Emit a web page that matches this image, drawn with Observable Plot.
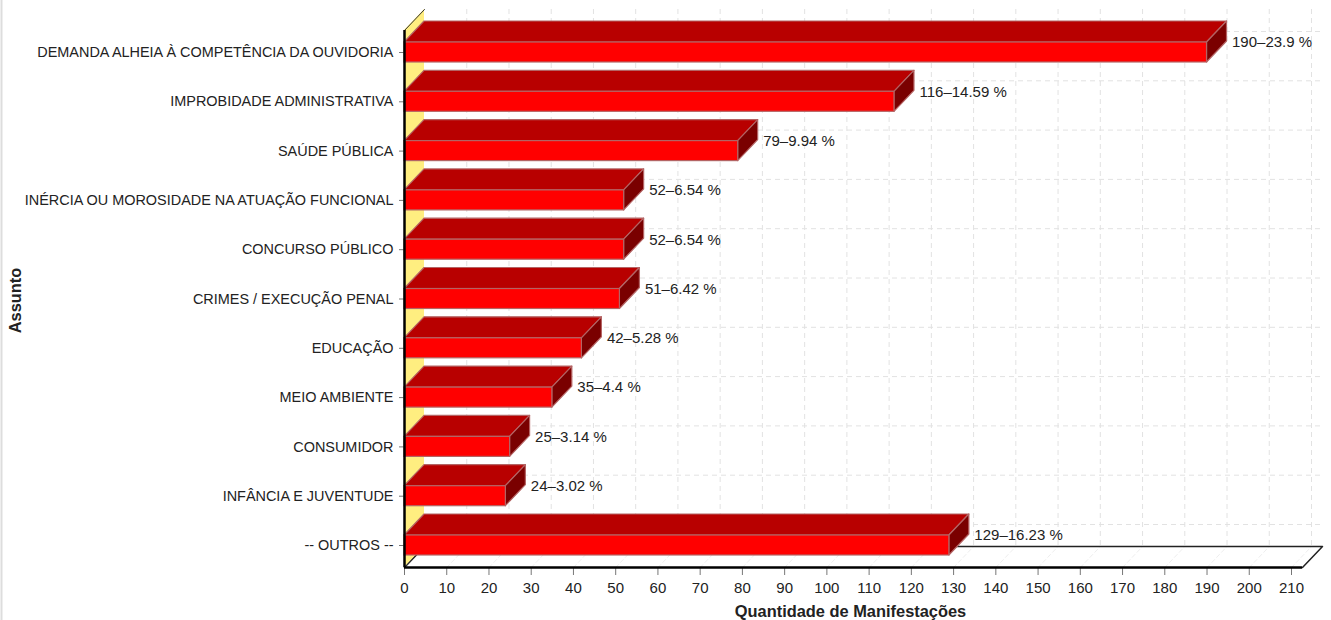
<!DOCTYPE html>
<html><head><meta charset="utf-8">
<script src="https://cdn.jsdelivr.net/npm/d3@7"></script>
<script src="https://cdn.jsdelivr.net/npm/@observablehq/plot@0.6"></script>
<style>html,body{margin:0;padding:0;background:#fff}svg{display:block}</style>
</head><body><div id="chart"></div>
<script>
const categories = ["DEMANDA ALHEIA À COMPETÊNCIA DA OUVIDORIA","IMPROBIDADE ADMINISTRATIVA","SAÚDE PÚBLICA","INÉRCIA OU MOROSIDADE NA ATUAÇÃO FUNCIONAL","CONCURSO PÚBLICO","CRIMES / EXECUÇÃO PENAL","EDUCAÇÃO","MEIO AMBIENTE","CONSUMIDOR","INFÂNCIA E JUVENTUDE","-- OUTROS --"];
const counts = [190,116,79,52,52,51,42,35,25,24,129];
const percents = ["23.9","14.59","9.94","6.54","6.54","6.42","5.28","4.4","3.14","3.02","16.23"];
const xTicks = d3.range(0,211,10);

const W=1331,H=620;
const x0=404, ppx=887/210;            // pixel of 0, pixels per unit
const y0=52, ppy=49.3;                // pixel of first category, pixels per category
const depthX=20/ppx, depthY=21/ppy;   // 3D depth in data units
const half=10/ppy;
const xMax=(1302-x0)/ppx;
const yFloor=(567-y0)/ppy, yTop=(30-y0)/ppy;

const idx=categories.map((_,i)=>i);
const topFaces=idx.flatMap(i=>[{i,y:i-half,x1:0,x2:counts[i]},{i,y:i-half-depthY,x1:depthX,x2:counts[i]+depthX}]);
const sideFaces=idx.flatMap(i=>[{i,x:counts[i],y1:i-half,y2:i+half},{i,x:counts[i]+depthX,y1:i-half-depthY,y2:i+half-depthY}]);
const wallFace=[{x:0,y1:yTop,y2:yFloor},{x:depthX,y1:yTop-depthY,y2:yFloor-depthY}];
const floorPts=[{x:0,y:yFloor},{x:depthX,y:yFloor-depthY},{x:xMax+depthX,y:yFloor-depthY},{x:xMax,y:yFloor}];
const gridBack=xTicks.filter(t=>t>0).map(t=>t+depthX);
const gridH=idx.map(i=>i-depthY);
const floorDiag=xTicks.filter(t=>t>0).flatMap(t=>[{t,x:t,y:yFloor},{t,x:t+depthX,y:yFloor-depthY}]);
const font='"Liberation Sans Narrow","Liberation Sans",Arial,sans-serif';
const boldFont='"Liberation Sans",Arial,sans-serif';
const ink="#222";
const edge="#B46464";

const chart=Plot.plot({
  width:W,height:H,
  marginLeft:0,marginRight:0,marginTop:0,marginBottom:0,
  x:{type:"linear",domain:[(0-x0)/ppx,(W-x0)/ppx],range:[0,W],axis:null},
  y:{type:"linear",domain:[(0-y0)/ppy,(H-y0)/ppy],range:[0,H],axis:null},
  style:{background:"#fff",fontFamily:font},
  marks:[
    // back wall grid and floor grid
    Plot.ruleX(gridBack,{x:d=>d,y1:yTop-depthY,y2:yFloor-depthY,stroke:"#e2e2e2",strokeDasharray:"5,4",strokeWidth:1}),
    Plot.ruleY(gridH,{y:d=>d,x1:depthX,x2:xMax+depthX,stroke:"#e2e2e2",strokeDasharray:"5,4",strokeWidth:1}),
    Plot.line(floorDiag,{x:"x",y:"y",z:"t",stroke:"#eee",strokeDasharray:"4,3",strokeWidth:1,curve:"linear"}),
    // floor
    Plot.line(floorPts,{x:"x",y:"y",stroke:"#222",strokeWidth:1.5,curve:"linear"}),
    // left wall
    Plot.areaY(wallFace,{x:"x",y1:"y1",y2:"y2",fill:"#FFEE80",curve:"linear"}),
    Plot.line(wallFace,{x:"x",y:"y1",stroke:"#333",strokeWidth:1,curve:"linear"}),
    Plot.line(wallFace,{x:"x",y:"y2",stroke:"#333",strokeWidth:1,curve:"linear"}),
    // bars
    Plot.areaX(topFaces,{y:"y",x1:"x1",x2:"x2",z:"i",fill:"#B80000",stroke:edge,strokeWidth:1.2,curve:"linear"}),
    Plot.areaY(sideFaces,{x:"x",y1:"y1",y2:"y2",z:"i",fill:"#7A0000",stroke:edge,strokeWidth:1.2,curve:"linear"}),
    Plot.rect(idx,{x1:()=>0,x2:i=>counts[i],y1:i=>i-half,y2:i=>i+half,fill:"#FF0000",stroke:edge,strokeWidth:1.2}),
    // value labels
    Plot.text(idx,{x:i=>counts[i]+depthX,y:i=>i-half,dx:5,text:i=>`${counts[i]}–${percents[i]} %`,textAnchor:"start",fontSize:15,fill:ink,fontFamily:font}),
    // axes
    Plot.ruleX(xTicks,{x:d=>d,y1:yFloor,y2:yFloor+8/ppy,stroke:"#777",strokeWidth:1}),
    Plot.ruleY(idx,{y:i=>i,x1:-5/ppx,x2:0,stroke:"#777",strokeWidth:1}),
    Plot.ruleX([0],{y1:yTop,y2:yFloor,stroke:"#000",strokeWidth:2.5}),
    Plot.ruleY([yFloor],{x1:0,x2:xMax,stroke:"#000",strokeWidth:2.5}),
    Plot.text(xTicks,{x:d=>d,y:()=>yFloor,dy:21,text:d=>String(d),fontSize:15,fill:ink,fontFamily:font}),
    Plot.text(idx,{x:()=>0,y:i=>i,dx:-11,text:i=>categories[i],textAnchor:"end",fontSize:14.45,fill:ink,fontFamily:font}),
    Plot.text(["Quantidade de Manifestações"],{x:()=>(850-x0)/ppx,y:()=>(611-y0)/ppy,text:d=>d,fontWeight:"bold",fontSize:16.4,fill:ink,fontFamily:boldFont}),
    Plot.text(["Assunto"],{x:()=>(15-x0)/ppx,y:()=>(300-y0)/ppy,text:d=>d,rotate:-90,fontWeight:"bold",fontSize:16.4,fill:ink,fontFamily:boldFont}),
    Plot.ruleX([(1-x0)/ppx],{y1:()=>(0-y0)/ppy,y2:()=>(H-y0)/ppy,stroke:"#ddd",strokeWidth:2})
  ]
});
document.getElementById("chart").appendChild(chart);
</script></body></html>
